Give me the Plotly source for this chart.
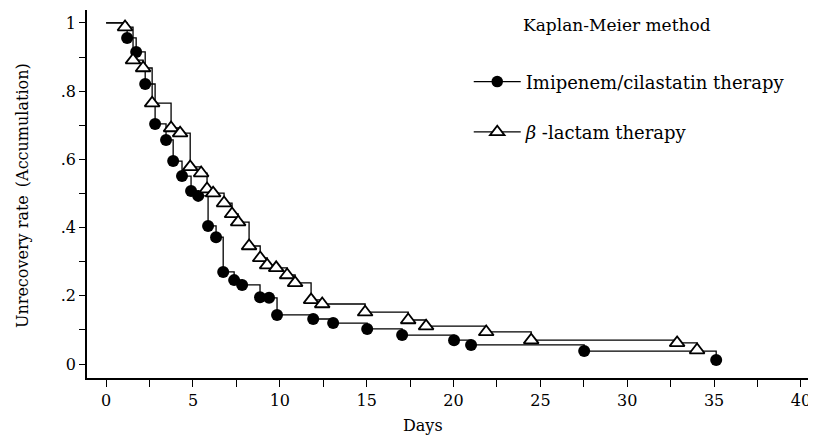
import plotly.graph_objects as go

# Imipenem/cilastatin therapy (filled circles)
imi_days = [1.21, 1.73, 2.25, 2.82, 3.45, 3.86, 4.37, 4.89, 5.30, 5.87, 6.33, 6.74, 7.37,
            7.83, 8.86, 9.38, 9.84, 11.92, 13.07, 15.03, 17.04, 20.03, 21.01, 27.52, 35.12]
imi_rate = [0.956, 0.915, 0.821, 0.704, 0.657, 0.595, 0.551, 0.507, 0.493, 0.405, 0.372,
            0.270, 0.246, 0.232, 0.196, 0.194, 0.144, 0.132, 0.120, 0.103, 0.085, 0.070,
            0.056, 0.038, 0.012]

# beta-lactam therapy (open triangles)
beta_days = [1.09, 1.55, 2.13, 2.65, 3.74, 4.26, 4.84, 5.47, 5.81, 6.16, 6.79, 7.25, 7.60,
             8.23, 8.87, 9.27, 9.79, 10.42, 10.88, 11.80, 12.44, 14.91, 17.39, 18.42,
             21.88, 24.47, 32.87, 34.02]
beta_rate = [0.988, 0.891, 0.868, 0.765, 0.692, 0.677, 0.578, 0.560, 0.513, 0.501, 0.472,
             0.440, 0.416, 0.346, 0.311, 0.290, 0.282, 0.261, 0.238, 0.188, 0.176, 0.152,
             0.129, 0.111, 0.094, 0.070, 0.062, 0.041]

start_day = [0]
start_rate = [1.0]

y_tickvals = [0, 0.2, 0.4, 0.6, 0.8, 1.0]
y_ticktext = ["0", ".2", ".4", ".6", ".8", "1"]
x_tickvals = [0, 5, 10, 15, 20, 25, 30, 35, 40]

FONT = "DejaVu Serif"

fig = go.Figure()
fig.add_trace(go.Scatter(
    x=start_day + imi_days, y=start_rate + imi_rate,
    mode="lines+markers", line=dict(shape="hv", color="black", width=1.3),
    marker=dict(symbol="circle", color="black", opacity=1,
                size=[0] + [12] * len(imi_days), line=dict(width=0)),
    name="Imipenem/cilastatin therapy", legendgroup="a",
))
fig.add_trace(go.Scatter(
    x=start_day + beta_days, y=start_rate + beta_rate,
    mode="lines+markers", line=dict(shape="hv", color="black", width=1.3),
    marker=dict(symbol="triangle-up", color="white", opacity=1,
                size=[0] + [13] * len(beta_days),
                line=dict(color="black", width=1.8)),
    name="<i>β</i> -lactam therapy", legendgroup="b",
))

# page has an 8px body margin, so the figure is 808x429 starting at (8, 8)
fig.update_layout(
    width=808, height=429,
    margin=dict(l=79, r=6, t=2, b=59),
    paper_bgcolor="white", plot_bgcolor="white",
    font=dict(family=FONT, size=16, color="black"),
    showlegend=True,
    legend=dict(x=0.528, y=0.855, xanchor="left", yanchor="top",
                traceorder="grouped", tracegroupgap=24,
                font=dict(family=FONT, size=18), itemwidth=47,
                bgcolor="rgba(0,0,0,0)"),
    annotations=[
        dict(text="Kaplan-Meier method", xref="paper", yref="paper",
             x=0.733, y=0.959, xanchor="center", yanchor="middle",
             showarrow=False, font=dict(family=FONT, size=17)),
        dict(text="Days", xref="paper", yref="paper", x=0.465, y=-0.130,
             xanchor="center", yanchor="middle", showarrow=False,
             font=dict(family=FONT, size=16)),
        dict(text="Unrecovery rate\u2002(Accumulation)", xref="paper", yref="paper",
             x=-0.090, y=0.497, xanchor="center", yanchor="middle", textangle=-90,
             showarrow=False, font=dict(family=FONT, size=16)),
    ],
)
fig.update_xaxes(
    range=[-1.1, 40.52], tickvals=x_tickvals, ticks="outside", ticklen=7,
    tickwidth=1.3, tickcolor="black", automargin=False,
    minor=dict(dtick=2.5, tick0=0, ticks="outside", ticklen=7, tickwidth=1.3, tickcolor="black"),
    showline=True, linecolor="black", linewidth=1.5, showgrid=False, zeroline=False,
    tickfont=dict(family=FONT, size=16),
)
fig.update_yaxes(
    range=[-0.041, 1.038], tickvals=y_tickvals, ticktext=y_ticktext, ticks="outside",
    ticklen=6, tickwidth=1.3, tickcolor="black", automargin=False,
    minor=dict(dtick=0.1, tick0=0, ticks="outside", ticklen=6, tickwidth=1.3, tickcolor="black"),
    showline=True, linecolor="black", linewidth=1.5, showgrid=False, zeroline=False,
    tickfont=dict(family=FONT, size=16),
)

fig.write_html("out.html")
